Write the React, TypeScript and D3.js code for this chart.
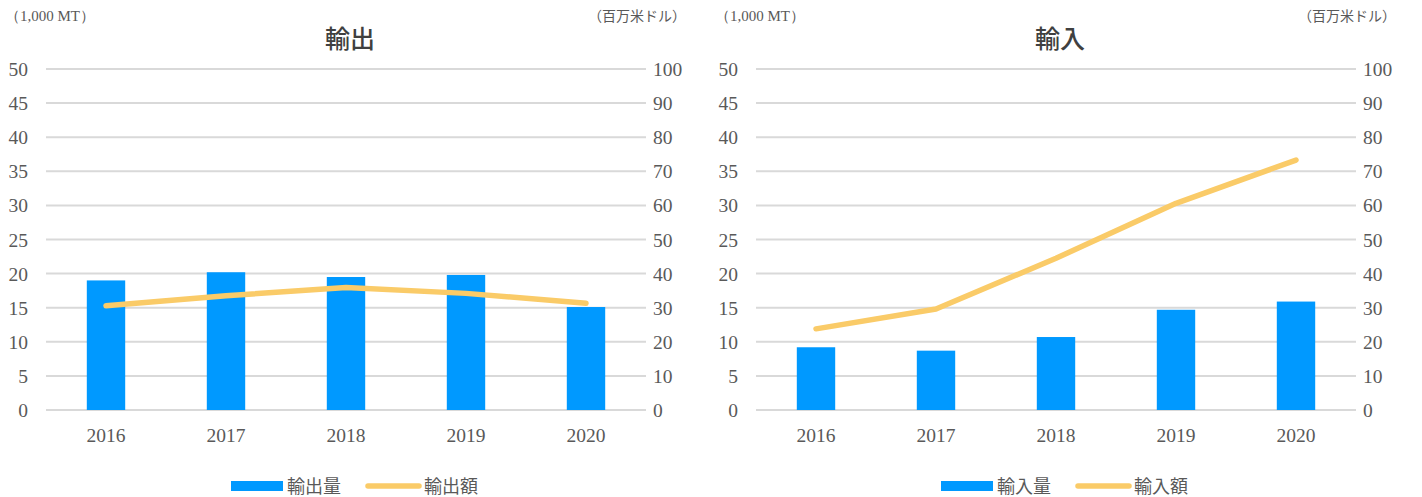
import React from "react";
import * as d3 from "d3";

// data
const years = ["2016", "2017", "2018", "2019", "2020"];
const exportVolume = [19.0, 20.2, 19.5, 19.8, 15.1];
const exportValue = [30.6, 33.5, 35.9, 34.2, 31.3];
const importVolume = [9.2, 8.7, 10.7, 14.7, 15.9];
const importValue = [23.8, 29.6, 44.5, 60.6, 73.3];
const leftTicks = [0, 5, 10, 15, 20, 25, 30, 35, 40, 45, 50];
const rightTicks = [0, 10, 20, 30, 40, 50, 60, 70, 80, 90, 100];

const BAR = "#0099FF";
const LINE = "#FACB68";
const GRID = "#D9D9D9";
const TEXT = "#595959";
const SERIF = "'Liberation Serif', 'DejaVu Serif', serif";
const SANS = "'Noto Sans CJK JP', 'Noto Sans', sans-serif";

type PanelProps = {
  x0: number;
  title: string;
  volume: number[];
  value: number[];
  volLabel: string;
  valLabel: string;
};

function Panel({ x0, title, volume, value, volLabel, valLabel }: PanelProps) {
  const left = 46, right = 646, top = 69, bottom = 410;
  const x = d3.scaleBand().domain(years).range([left, right]).paddingInner(0.68).paddingOuter(0.34);
  const yL = d3.scaleLinear().domain([0, 50]).range([bottom, top]);
  const yR = d3.scaleLinear().domain([0, 100]).range([bottom, top]);
  const cx = (d: string) => (x(d) ?? 0) + x.bandwidth() / 2;
  const line = d3.line<number>().x((_, i) => cx(years[i])).y(v => yR(v));

  return (
    <g transform={`translate(${x0},0)`}>
      <text x={5} y={21} fontFamily={SERIF} fontSize={15} fill={TEXT}>（1,000 MT）</text>
      <text x={686} y={21} fontFamily={SANS} fontSize={14} fill={TEXT} textAnchor="end">（百万米ドル）</text>
      <text x={350} y={48} fontFamily={SANS} fontSize={25} fontWeight={500} fill="#404040" textAnchor="middle">{title}</text>

      {leftTicks.map(t => (
        <g key={t}>
          <line x1={left} x2={right} y1={yL(t)} y2={yL(t)} stroke={GRID} strokeWidth={2} />
          <text x={28} y={yL(t) + 7} fontFamily={SERIF} fontSize={19.5} fill={TEXT} textAnchor="end">{t}</text>
        </g>
      ))}
      {rightTicks.map(t => (
        <text key={t} x={653} y={yR(t) + 7} fontFamily={SERIF} fontSize={19.5} fill={TEXT}>{t}</text>
      ))}

      {volume.map((v, i) => (
        <rect key={years[i]} x={x(years[i])} y={yL(v)} width={x.bandwidth()} height={bottom - yL(v)} fill={BAR} />
      ))}
      <path d={line(value) ?? ""} fill="none" stroke={LINE} strokeWidth={5.5} strokeLinecap="round" strokeLinejoin="round" />

      {years.map(d => (
        <text key={d} x={cx(d)} y={442} fontFamily={SERIF} fontSize={19.5} fill={TEXT} textAnchor="middle">{d}</text>
      ))}

      <rect x={231} y={481} width={52} height={10} fill={BAR} />
      <text x={287} y={493} fontFamily={SANS} fontSize={18} fill={TEXT}>{volLabel}</text>
      <line x1={368} x2={419} y1={486} y2={486} stroke={LINE} strokeWidth={5.5} strokeLinecap="round" />
      <text x={424} y={493} fontFamily={SANS} fontSize={18} fill={TEXT}>{valLabel}</text>
    </g>
  );
}

export default function App() {
  return (
    <svg width={1422} height={497} style={{ position: "absolute", left: 0, top: 0, background: "#fff" }}>
      <Panel x0={0} title="輸出" volume={exportVolume} value={exportValue} volLabel="輸出量" valLabel="輸出額" />
      <Panel x0={710} title="輸入" volume={importVolume} value={importValue} volLabel="輸入量" valLabel="輸入額" />
    </svg>
  );
}
